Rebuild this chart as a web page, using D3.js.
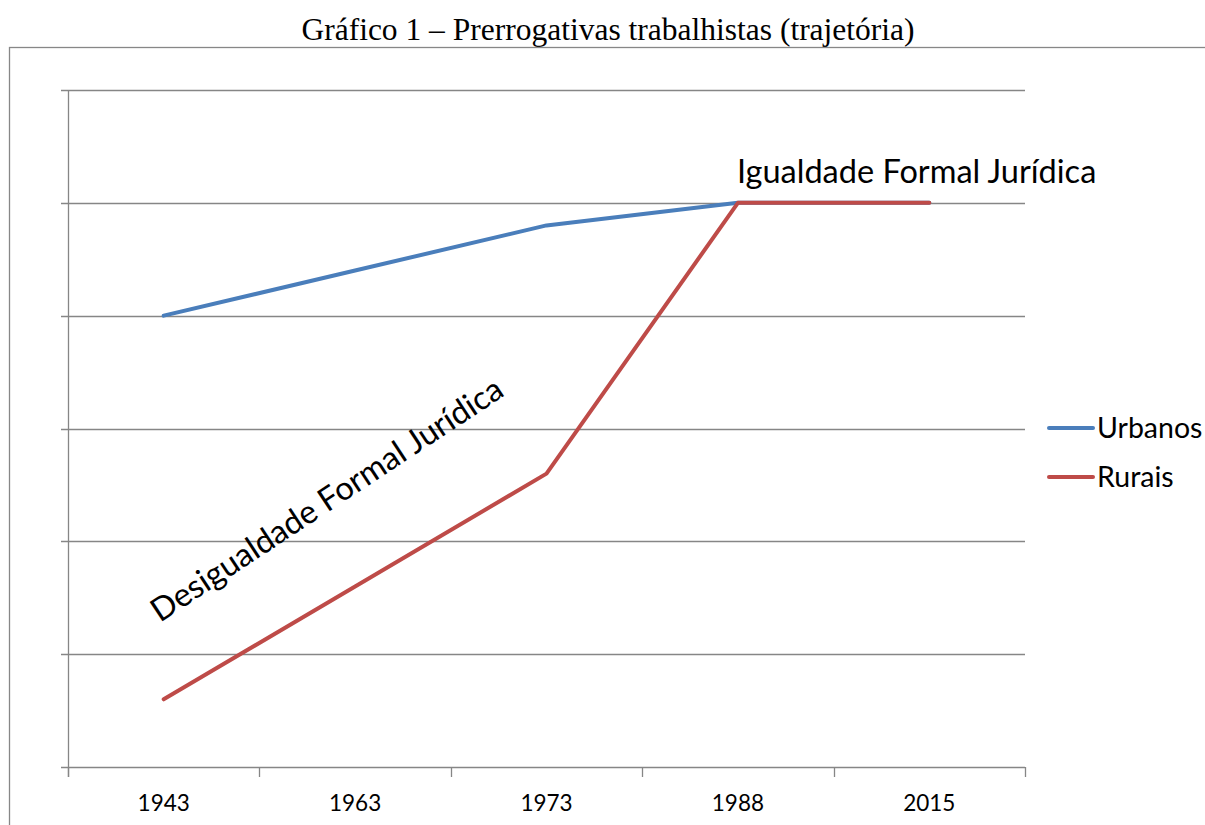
<!DOCTYPE html>
<meta charset="utf-8">
<script src="https://d3js.org/d3.v7.min.js"></script>
<style>
  body { margin: 0; background: #fff; }
</style>
<div id="chart"></div>
<script>

// categories and series (scale 0..6)
var years = ["1943", "1963", "1973", "1988", "2015"];
var urbanos = [4.0, 4.4, 4.8, 5.0, 5.0];
var rurais = [0.6, 1.6, 2.6, 5.0, 5.0];
var seriesNames = ["Urbanos", "Rurais"];
var colors = ["#4A7EBB", "#BE4B48"];

var W = 1205, H = 825;
var plot = {left: 68, right: 1025, top: 90, bottom: 767};

var svg = d3.select("#chart").append("svg")
  .attr("width", W).attr("height", H);

// title
svg.append("text")
  .attr("x", 608).attr("y", 40)
  .attr("text-anchor", "middle")
  .style("font-family", "'Liberation Serif', 'Times New Roman', serif")
  .style("font-size", "31.5px")
  .text("Gráfico 1 – Prerrogativas trabalhistas (trajetória)");

// chart frame
svg.append("rect")
  .attr("x", 9.5).attr("y", 47.5)
  .attr("width", W + 20).attr("height", H)
  .attr("fill", "none").attr("stroke", "#878787").attr("stroke-width", 1.3);

var x = d3.scaleBand().domain(years).range([plot.left, plot.right]);
var y = d3.scaleLinear().domain([0, 6]).range([plot.bottom, plot.top]);

// gridlines
svg.append("g")
  .selectAll("line")
  .data(d3.range(1, 7))
  .enter().append("line")
    .attr("x1", plot.left - 7).attr("x2", plot.right)
    .attr("y1", function(d) { return Math.round(y(d)) + 0.5; })
    .attr("y2", function(d) { return Math.round(y(d)) + 0.5; })
    .attr("stroke", "#868686").attr("stroke-width", 1.3);

// y axis line
svg.append("line")
  .attr("x1", plot.left + 0.5).attr("x2", plot.left + 0.5)
  .attr("y1", plot.top).attr("y2", plot.bottom + 10)
  .attr("stroke", "#868686").attr("stroke-width", 1.3);

// x axis
var xAxis = svg.append("g")
  .attr("transform", "translate(0," + (plot.bottom + 0.5) + ")")
  .call(d3.axisBottom(x).tickSize(0).tickPadding(28));
xAxis.select(".domain").attr("stroke", "#868686").attr("stroke-width", 1.3)
  .attr("d", "M" + (plot.left - 7) + ",0H" + plot.right);
xAxis.selectAll("text")
  .style("font-family", "Lato, 'Open Sans', sans-serif")
  .style("font-size", "22.5px")
  .attr("fill", "#000");

// boundary ticks
svg.append("g")
  .selectAll("line")
  .data(d3.range(years.length + 1))
  .enter().append("line")
    .attr("x1", function(i) { return Math.round(plot.left + i * x.step()) + 0.5; })
    .attr("x2", function(i) { return Math.round(plot.left + i * x.step()) + 0.5; })
    .attr("y1", plot.bottom).attr("y2", plot.bottom + 10)
    .attr("stroke", "#868686").attr("stroke-width", 1.3);

// lines
var line = d3.line()
  .x(function(d, i) { return x(years[i]) + x.bandwidth() / 2; })
  .y(function(d) { return y(d); });

[urbanos, rurais].forEach(function(s, k) {
  svg.append("path")
    .datum(s)
    .attr("fill", "none")
    .attr("stroke", colors[k])
    .attr("stroke-width", 4)
    .attr("stroke-linejoin", "round")
    .attr("stroke-linecap", "round")
    .attr("d", line);
});

// annotations
svg.append("text")
  .attr("x", 737).attr("y", 183)
  .style("font-family", "Lato, 'Open Sans', sans-serif")
  .style("font-size", "32.5px")
  .text("Igualdade Formal Jurídica");

svg.append("text")
  .attr("transform", "translate(160,623) rotate(-33.4)")
  .style("font-family", "Lato, 'Open Sans', sans-serif")
  .style("font-size", "32.5px")
  .text("Desigualdade Formal Jurídica");

// legend
var legend = svg.append("g")
  .selectAll("g")
  .data(seriesNames)
  .enter().append("g")
    .attr("transform", function(d, i) { return "translate(1049," + (428 + i * 49) + ")"; });
legend.append("line")
  .attr("x1", 0).attr("x2", 44)
  .attr("stroke", function(d, i) { return colors[i]; })
  .attr("stroke-width", 4).attr("stroke-linecap", "round");
legend.append("text")
  .attr("x", 48).attr("y", 10)
  .style("font-family", "Lato, 'Open Sans', sans-serif")
  .style("font-size", "28.5px")
  .text(function(d) { return d; });

</script>
